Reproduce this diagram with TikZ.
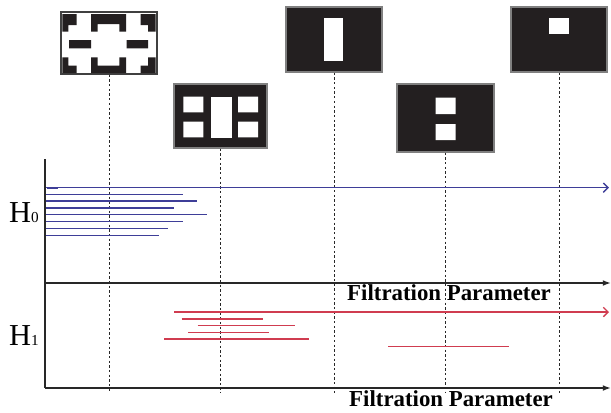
\documentclass[tikz,border=0pt]{standalone}
\usepackage{fontspec}
\setmainfont{Liberation Serif}
\usetikzlibrary{arrows.meta, fit}

\definecolor{imgdark}{RGB}{35,31,32}
\definecolor{barblue}{RGB}{62,62,152}
\definecolor{barred}{RGB}{208,60,80}
\definecolor{axisgray}{RGB}{40,40,40}

\begin{document}
\begin{tikzpicture}[x=0.03cm, y=-0.03cm,
    imgbox/.style = {draw=gray, line width=1.2pt, fill=imgdark, inner sep=0pt},
    hole/.style = {fill=white},
    block/.style = {fill=imgdark},
    guide/.style = {axisgray, line width=0.7pt, dash pattern=on 2pt off 2pt},
    axis/.style = {axisgray, line width=1.3pt, -{Latex[length=7pt,width=5pt]}},
    h0bar/.style = {barblue, line width=1.2pt},
    h1bar/.style = {barred, line width=1.2pt},
    bararrow/.style = {-{Straight Barb[length=4pt,width=8pt]}},
    hlabel/.style = {font=\fontsize{26}{26}\selectfont, inner sep=0pt, anchor=base west},
    xlabel/.style = {font=\fontsize{19.5}{19.5}\selectfont\bfseries, inner sep=0pt, anchor=base west}]

    \useasboundingbox (0,0) rectangle (611,412);

    % Images
    \node (img1) [imgbox, fill=white, draw=darkgray, fit={(61,12) (157,74)}] {};
    \node (img2) [imgbox, fit={(174,84) (267,148)}] {};
    \node (img3) [imgbox, fit={(286,7) (382,72)}] {};
    \node (img4) [imgbox, fit={(397,84) (494,152)}] {};
    \node (img5) [imgbox, fit={(511,7) (607,72)}] {};

    % first image
    \fill[block] (62.3,14) rectangle (76.7,25) (62.3,14) rectangle (68.3,31.7);
    \fill[block] (91,14) rectangle (126,24) (91,14) rectangle (97.7,31.7) (119.3,14) rectangle (126,31.7);
    \fill[block] (140.5,14) rectangle (155.5,25) (148,14) rectangle (155.5,31.7);
    \fill[block] (69,40) rectangle (91,48.3) (126.5,40) rectangle (148,48.3);
    \fill[block] (62.3,65.7) rectangle (76.7,73) (62.3,57.3) rectangle (68.3,73);
    \fill[block] (91,65.7) rectangle (126,73) (91,57.3) rectangle (97.7,73) (119.3,57.3) rectangle (126,73);
    \fill[block] (140.5,65.7) rectangle (155.5,73) (148,57.3) rectangle (155.5,73);

    % holes
    \fill[hole] (183.3,96.7) rectangle (203.3,112.3) (183.3,121.7) rectangle (203.3,137.3);
    \fill[hole] (211,96.7) rectangle (231.7,137.7);
    \fill[hole] (238,96.7) rectangle (258,112.3) (238,121.7) rectangle (258,137.3);
    \fill[hole] (324.3,18.3) rectangle (343.3,61);
    \fill[hole] (435.7,97.7) rectangle (455.7,114) (435.7,124) rectangle (455.7,140);
    \fill[hole] (549,18.3) rectangle (569,34.3);

    % Axes
    \coordinate (origin) at (45,159);
    \coordinate (ax1) at (45,283);
    \coordinate (ax2) at (45,388);
    \coordinate (ax1end) at (611,283);
    \coordinate (ax2end) at (611,388);
    \coordinate (bot) at (0,393);
    \draw [axisgray, line width=1.3pt] (origin) -- (ax2);
    \draw [axis] (ax1) -- (ax1end);
    \draw [axis] (ax2) -- (ax2end);

    % Guides
    \foreach \i in {1,...,5}
        \draw [guide] (img\i.south) -- (img\i.south |- bot);

    % Labels
    \node (h0) [hlabel] at (9,222) {H{\fontsize{13}{13}\selectfont 0}};
    \node (h1) [hlabel] at (9,345) {H{\fontsize{13}{13}\selectfont 1}};
    \node (fp1) [xlabel] at (347,300.7) {Filtration Parameter};
    \node (fp2) [xlabel] at (349,406.5) {Filtration Parameter};

    % H0 bars
    \draw [h0bar, bararrow] (46,187.7) -- (609,187.7);
    \draw [h0bar, line width=1.6pt] (47,187.7) -- (58,187.7);
    \foreach \y/\e in {194.3/182.7, 201/196.7, 208/173.7, 214.7/207, 221.7/182.7, 228.7/167.7, 235.3/158.7}
        \draw [h0bar] (46,\y) -- (\e,\y);

    % H1 bars
    \draw [h1bar, bararrow] (174,312) -- (609,312);
    \foreach \y/\s/\e in {319/181.7/263, 325.7/197.7/294.7, 332.7/188/269, 339/164.3/309, 346.3/388/508.7}
        \draw [h1bar] (\s,\y) -- (\e,\y);
\end{tikzpicture}
\end{document}
